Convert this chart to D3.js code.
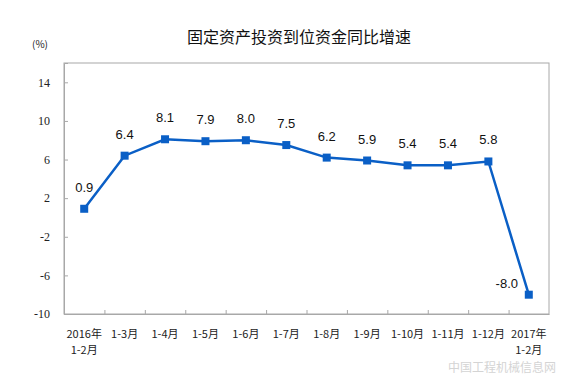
<!DOCTYPE html>
<html><head><meta charset="utf-8">
<script src="https://cdn.jsdelivr.net/npm/d3@7"></script>
<style>
body{margin:0;background:#fff;}
svg{display:block;}
</style></head>
<body>
<svg id="chart" width="580" height="380"></svg>
<script>
const title = "固定资产投资到位资金同比增速";
const unitLabel = "(%)";
const categories = ["2016年|1-2月","1-3月","1-4月","1-5月","1-6月","1-7月","1-8月","1-9月","1-10月","1-11月","1-12月","2017年|1-2月"];
const values = [0.9, 6.4, 8.1, 7.9, 8.0, 7.5, 6.2, 5.9, 5.4, 5.4, 5.8, -8.0];
const yTicks = [-10, -6, -2, 2, 6, 10, 14];
const watermark = "中国工程机械信息网";

const svg = d3.select("#chart");
const m = {left:64, right:549, top:63, bottom:314};
const x = d3.scaleBand().domain(categories).range([m.left, m.right]).padding(0);
const y = d3.scaleLinear().domain([-10, 16]).range([m.bottom, m.top]);
const cjk = "'Noto Sans CJK SC','Liberation Sans',sans-serif";
const num = "'Liberation Sans',Arial,sans-serif";
const blue = "#0a5fc6";
const hy = s => s.replace("\u2212","-");

// title
svg.append("text").attr("x", 299).attr("y", 43).attr("text-anchor","middle")
  .attr("font-family", cjk).attr("font-size", 16).attr("fill","#111").text(title);
svg.append("text").attr("x", 40).attr("y", 48).attr("text-anchor","middle")
  .attr("font-family", cjk).attr("font-size", 10).attr("fill","#222").text(unitLabel);

// frame
svg.append("rect").attr("x", m.left).attr("y", m.top).attr("width", m.right-m.left).attr("height", m.bottom-m.top)
  .attr("fill","none").attr("stroke","#a8a8a8").attr("stroke-width",1);

// y axis
const yAxis = d3.axisLeft(y).tickValues(yTicks).tickSize(-4).tickPadding(14).tickFormat(d => hy(String(d)));
const gy = svg.append("g").attr("transform",`translate(${m.left},0)`).call(yAxis);
gy.select(".domain").attr("stroke","#a8a8a8");
gy.selectAll(".tick line").attr("stroke","#a8a8a8");
gy.selectAll(".tick text").attr("font-family", "'Liberation Serif','Times New Roman',serif").attr("font-size", 12).attr("fill","#222");

// x axis
const xAxis = d3.axisBottom(x).tickSize(0).tickFormat("");
const gx = svg.append("g").attr("transform",`translate(0,${m.bottom})`).call(xAxis);
gx.select(".domain").attr("stroke","#a8a8a8");
const bounds = categories.slice(1).map(c => x(c));
svg.append("g").selectAll("line").data(bounds).join("line")
  .attr("x1", d=>d+0.5).attr("x2", d=>d+0.5).attr("y1", m.bottom).attr("y2", m.bottom-4)
  .attr("stroke","#a8a8a8");
const lab = svg.append("g").selectAll("text").data(categories).join("text")
  .attr("x", d => x(d)+x.bandwidth()/2).attr("y", 338)
  .attr("text-anchor","middle").attr("font-family", cjk).attr("font-size", 11).attr("fill","#222");
lab.each(function(d){
  const t = d3.select(this);
  d.split("|").forEach((p,i)=>{
    t.append("tspan").attr("x", x(d)+x.bandwidth()/2).attr("dy", i===0?0:16).text(p);
  });
});

// watermark (faint)
svg.append("text").attr("x",502).attr("y",372).attr("text-anchor","middle").attr("font-family",cjk).attr("font-size",12)
  .attr("fill","#d4d4d4").text(watermark);

// line
const line = d3.line().x((d,i)=>x(categories[i])+x.bandwidth()/2).y(d=>y(d));
svg.append("path").datum(values).attr("d", line).attr("fill","none").attr("stroke", blue).attr("stroke-width",2.5);
svg.append("g").selectAll("rect").data(values).join("rect")
  .attr("x",(d,i)=>x(categories[i])+x.bandwidth()/2-4).attr("y",d=>y(d)-4)
  .attr("width",8).attr("height",8).attr("fill",blue);

// data labels
svg.append("g").selectAll("text").data(values).join("text")
  .attr("x",(d,i)=>x(categories[i])+x.bandwidth()/2 + (i===values.length-1 ? -22 : 0))
  .attr("y",(d,i)=> i===values.length-1 ? y(d)-7 : y(d)-17)
  .attr("text-anchor","middle").attr("font-family", num).attr("font-size", 13).attr("fill","#111")
  .text(d=>hy(d3.format(".1f")(d)));
</script>
</body></html>
